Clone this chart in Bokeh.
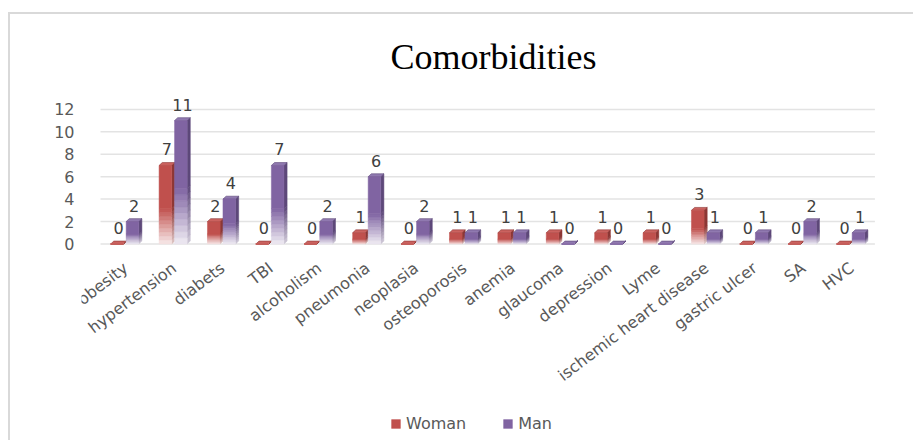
from bokeh.plotting import figure
from bokeh.models import ColumnDataSource, FixedTicker, Legend, LegendItem, Title, Range1d
from bokeh.core.properties import value
from bokeh.embed import file_html
from bokeh.resources import INLINE

# ---- data ----
categories = ["obesity", "hypertension", "diabets", "TBI", "alcoholism", "pneumonia",
              "neoplasia", "osteoporosis", "anemia", "glaucoma", "depression", "Lyme",
              "ischemic heart disease", "gastric ulcer", "SA", "HVC"]
woman = [0, 7, 2, 0, 0, 1, 0, 1, 1, 1, 1, 1, 3, 0, 0, 0]
man = [2, 11, 4, 7, 2, 6, 2, 1, 1, 0, 0, 0, 1, 1, 2, 1]
y_ticks = [0, 2, 4, 6, 8, 10, 12]
series_names = ["Woman", "Man"]

# ---- style ----
FONT = "DejaVu Sans"
W = 0.26
DX = 0.065
DY = 0.26
FADE = 0.45
NS = 9
styles = {
    "Woman": dict(off=0.21, front="#c0504d", side="#8c3735", top="#cb625f"),
    "Man":   dict(off=0.53, front="#8064a2", side="#5d4879", top="#9079b0"),
}
N = len(categories)


def mix(h, t):
    h = h.lstrip("#")
    r, g, b = int(h[0:2], 16), int(h[2:4], 16), int(h[4:6], 16)
    r = round(r + (255 - r) * t); g = round(g + (255 - g) * t); b = round(b + (255 - b) * t)
    return "#%02x%02x%02x" % (r, g, b)


p = figure(width=905, height=428, output_backend="svg", toolbar_location=None,
           x_range=Range1d(-0.393, N + 0.632), y_range=Range1d(-17.7, 13.15),
           min_border_left=71, min_border_right=10, min_border_top=72, min_border_bottom=0)
p.margin = (12, 0, 0, 8)
p.styles = {"border-left": "2px solid #d9d9d9", "border-top": "2px solid #d9d9d9"}
p.outline_line_color = None
p.background_fill_color = "white"
p.border_fill_color = "white"

p.segment(x0=[0] * len(y_ticks), x1=[N] * len(y_ticks), y0=y_ticks, y1=y_ticks,
          line_color="#e3e3e3", line_width=1.5)

legend_items = []
for name, vals in zip(series_names, [woman, man]):
    st = styles[name]
    L, R, B, T, C = [], [], [], [], []
    sx, sy, sc = [], [], []
    for i, v in enumerate(vals):
        x0 = i + st["off"]
        x1 = x0 + W
        for k in range(NS):
            f0, f1 = FADE * k / NS, FADE * (k + 1) / NS
            t = 0.88 * (1 - (k + 0.5) / NS)
            L.append(x0); R.append(x1); B.append(v * f0); T.append(v * f1)
            C.append(mix(st["front"], t))
            sx.append([x1, x1 + DX, x1 + DX, x1])
            sy.append([v * f0, v * f0 + DY, v * f1 + DY, v * f1])
            sc.append(mix(st["side"], t * 0.8))
        sx.append([x1, x1 + DX, x1 + DX, x1])
        sy.append([v * FADE, v * FADE + DY, v + DY, v])
        sc.append(st["side"])
    src_fade = ColumnDataSource(dict(left=L, right=R, bottom=B, top=T, color=C))
    src_solid = ColumnDataSource(dict(
        left=[i + st["off"] for i in range(len(vals))],
        right=[i + st["off"] + W for i in range(len(vals))],
        bottom=[v * FADE for v in vals], top=list(vals)))
    src_side = ColumnDataSource(dict(xs=sx, ys=sy, color=sc))
    src_top = ColumnDataSource(dict(
        xs=[[i + st["off"], i + st["off"] + W, i + st["off"] + W + DX, i + st["off"] + DX]
            for i in range(len(vals))],
        ys=[[v, v, v + DY, v + DY] for v in vals]))
    p.patches("xs", "ys", source=src_side, fill_color="color", line_color="color", line_width=0.5)
    p.patches("xs", "ys", source=src_top, fill_color=st["top"], line_color=st["side"], line_width=0.6)
    p.quad(left="left", right="right", bottom="bottom", top="top", source=src_fade,
           fill_color="color", line_color="color", line_width=0.5)
    r = p.quad(left="left", right="right", bottom="bottom", top="top", source=src_solid,
               fill_color=st["front"], line_color=st["front"], line_width=0.5)
    legend_items.append(LegendItem(label=name, renderers=[r]))
    lab = ColumnDataSource(dict(x=[i + st["off"] + W / 2 + DX / 2 for i in range(len(vals))],
                                y=list(vals), t=[str(v) for v in vals]))
    p.text(x="x", y="y", text="t", source=lab, y_offset=-16, text_align="center",
           text_baseline="middle", text_font=value(FONT), text_font_size="16px",
           text_color="#404040")

cat_src = ColumnDataSource(dict(x=[i + 0.5 for i in range(N)], y=[0] * N, t=categories))
p.text(x="x", y="y", text="t", source=cat_src, angle=0.65, x_offset=1, y_offset=22,
       text_align="right", text_baseline="middle", text_font=value(FONT),
       text_font_size="16px", text_color="#595959")

p.xaxis.visible = False
p.yaxis.ticker = FixedTicker(ticks=y_ticks)
p.yaxis.axis_line_color = None
p.yaxis.major_tick_line_color = None
p.yaxis.minor_tick_line_color = None
p.yaxis.major_label_text_font = FONT
p.yaxis.major_label_text_font_size = "16px"
p.yaxis.major_label_text_color = "#595959"
p.yaxis.major_label_standoff = 1

p.xgrid.grid_line_color = None
p.ygrid.grid_line_color = None

title = Title(text="Comorbidities", text_font="Liberation Serif", text_font_size="36px",
              text_font_style="normal", text_color="#000000", align="center", standoff=40)
p.add_layout(title, "above")

legend = Legend(items=legend_items, orientation="horizontal", location=(309, 9),
                label_text_font=FONT, label_text_font_size="16px", label_text_color="#595959",
                glyph_width=11, glyph_height=11, label_standoff=5, spacing=36,
                padding=0, margin=0, border_line_color=None, background_fill_alpha=0)
p.add_layout(legend, "center")

open("out.html", "w").write(file_html(p, INLINE))
